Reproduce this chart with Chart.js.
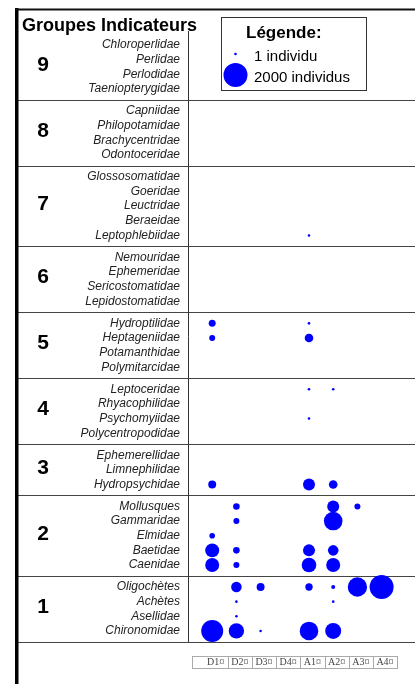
<!DOCTYPE html>
<html lang="fr">
<head>
<meta charset="utf-8">
<title>Groupes indicateurs</title>
<script src="https://cdn.jsdelivr.net/npm/chart.js@4"></script>
<style>
  html, body { margin: 0; padding: 0; background: #fff; }
  canvas { display: block; }
</style>
</head>
<body>
<canvas id="chart" width="415" height="684"></canvas>
<script>
// Stations along the x axis
const stations = ['D1', 'D2', 'D3', 'D4', 'A1', 'A2', 'A3', 'A4'];

// Indicator groups, top to bottom, and their families
const groupNumbers = [9, 8, 7, 6, 5, 4, 3, 2, 1];
const groupFamilies = [
  ['Chloroperlidae', 'Perlidae', 'Perlodidae', 'Taeniopterygidae'],
  ['Capniidae', 'Philopotamidae', 'Brachycentridae', 'Odontoceridae'],
  ['Glossosomatidae', 'Goeridae', 'Leuctridae', 'Beraeidae', 'Leptophlebiidae'],
  ['Nemouridae', 'Ephemeridae', 'Sericostomatidae', 'Lepidostomatidae'],
  ['Hydroptilidae', 'Heptageniidae', 'Potamanthidae', 'Polymitarcidae'],
  ['Leptoceridae', 'Rhyacophilidae', 'Psychomyiidae', 'Polycentropodidae'],
  ['Ephemerellidae', 'Limnephilidae', 'Hydropsychidae'],
  ['Mollusques', 'Gammaridae', 'Elmidae', 'Baetidae', 'Caenidae'],
  ['Oligochètes', 'Achètes', 'Asellidae', 'Chironomidae']
];

// Individuals per family (same order as above), columns D1 D2 D3 D4 A1 A2 A3 A4
const counts = [
  [0, 0, 0, 0, 0, 0, 0, 0],          // Chloroperlidae
  [0, 0, 0, 0, 0, 0, 0, 0],          // Perlidae
  [0, 0, 0, 0, 0, 0, 0, 0],          // Perlodidae
  [0, 0, 0, 0, 0, 0, 0, 0],          // Taeniopterygidae
  [0, 0, 0, 0, 0, 0, 0, 0],          // Capniidae
  [0, 0, 0, 0, 0, 0, 0, 0],          // Philopotamidae
  [0, 0, 0, 0, 0, 0, 0, 0],          // Brachycentridae
  [0, 0, 0, 0, 0, 0, 0, 0],          // Odontoceridae
  [0, 0, 0, 0, 0, 0, 0, 0],          // Glossosomatidae
  [0, 0, 0, 0, 0, 0, 0, 0],          // Goeridae
  [0, 0, 0, 0, 0, 0, 0, 0],          // Leuctridae
  [0, 0, 0, 0, 0, 0, 0, 0],          // Beraeidae
  [0, 0, 0, 0, 3, 0, 0, 0],          // Leptophlebiidae
  [0, 0, 0, 0, 0, 0, 0, 0],          // Nemouridae
  [0, 0, 0, 0, 0, 0, 0, 0],          // Ephemeridae
  [0, 0, 0, 0, 0, 0, 0, 0],          // Sericostomatidae
  [0, 0, 0, 0, 0, 0, 0, 0],          // Lepidostomatidae
  [170, 0, 0, 0, 5, 0, 0, 0],        // Hydroptilidae
  [125, 0, 0, 0, 260, 0, 0, 0],      // Heptageniidae
  [0, 0, 0, 0, 0, 0, 0, 0],          // Potamanthidae
  [0, 0, 0, 0, 0, 0, 0, 0],          // Polymitarcidae
  [0, 0, 0, 0, 2, 2, 0, 0],          // Leptoceridae
  [0, 0, 0, 0, 0, 0, 0, 0],          // Rhyacophilidae
  [0, 0, 0, 0, 2, 0, 0, 0],          // Psychomyiidae
  [0, 0, 0, 0, 0, 0, 0, 0],          // Polycentropodidae
  [0, 0, 0, 0, 0, 0, 0, 0],          // Ephemerellidae
  [0, 0, 0, 0, 0, 0, 0, 0],          // Limnephilidae
  [220, 0, 0, 0, 500, 260, 0, 0],    // Hydropsychidae
  [0, 150, 0, 0, 0, 500, 125, 0],    // Mollusques
  [0, 125, 0, 0, 0, 1200, 0, 0],     // Gammaridae
  [110, 0, 0, 0, 0, 0, 0, 0],        // Elmidae
  [680, 150, 0, 0, 500, 390, 0, 0],  // Baetidae
  [680, 125, 0, 0, 740, 680, 0, 0],  // Caenidae
  [0, 390, 220, 0, 190, 55, 1300, 2000], // Oligochètes
  [0, 2, 0, 0, 0, 2, 0, 0],          // Achètes
  [0, 2, 0, 0, 0, 0, 0, 0],          // Asellidae
  [1680, 820, 8, 0, 1200, 890, 0, 0] // Chironomidae
];

// Legend reference sizes
const legendCounts = [1, 2000];
const legendLabels = ['1 individu', '2000 individus'];

// bubble area proportional to the number of individuals (2000 -> radius 12)
function bubbleRadius(n) {
  return Math.max(1.3, 12 * Math.sqrt(n / 2000));
}

// row positions: one unit per family, half a unit extra between groups
const families = groupFamilies.flat();
const rowPos = [];
const groupRange = [];
let u = 0;
groupFamilies.forEach((fams, g) => {
  if (g > 0) u += 0.5;
  const first = u;
  fams.forEach(() => { rowPos.push(u); u += 1; });
  groupRange.push([first, u - 1]);
});

const points = [];
counts.forEach((row, i) => {
  row.forEach((n, j) => {
    if (n > 0) points.push({ x: j, y: rowPos[i], r: bubbleRadius(n) });
  });
});

const tablePlugin = {
  id: 'tableLayout',
  beforeDatasetsDraw(chart) {
    const { ctx, chartArea, scales: { y } } = chart;
    ctx.save();
    ctx.strokeStyle = '#444';
    ctx.lineWidth = 1;
    groupRange.forEach(([first, last]) => {
      const py = Math.round(y.getPixelForValue(last + 0.75)) + 0.5;
      ctx.beginPath();
      ctx.moveTo(18, py);
      ctx.lineTo(chart.width, py);
      ctx.stroke();
    });
    // column separator between names and bubbles
    ctx.strokeStyle = '#333';
    ctx.beginPath();
    ctx.moveTo(chartArea.left + 0.5, 31);
    ctx.lineTo(chartArea.left + 0.5, y.getPixelForValue(groupRange[groupRange.length - 1][1] + 0.75));
    ctx.stroke();
    ctx.restore();
  },
  afterDraw(chart) {
    const { ctx, scales: { x, y } } = chart;
    ctx.save();

    // outer frame
    ctx.fillStyle = '#000';
    ctx.fillRect(15, 8, 3.5, chart.height - 8);
    ctx.fillStyle = '#111';
    ctx.fillRect(15, 8.5, chart.width - 15, 2);

    // header
    ctx.fillStyle = '#000';
    ctx.font = 'bold 18px "Liberation Sans", Arial, sans-serif';
    ctx.textAlign = 'left';
    ctx.textBaseline = 'alphabetic';
    ctx.fillText('Groupes Indicateurs', 22, 30.5);

    // group numbers
    ctx.font = 'bold 21px "Liberation Sans", Arial, sans-serif';
    ctx.textAlign = 'center';
    ctx.textBaseline = 'middle';
    groupRange.forEach(([first, last], g) => {
      const py = (y.getPixelForValue(first) + y.getPixelForValue(last)) / 2 - 2;
      ctx.fillText(String(groupNumbers[g]), 43, py);
    });

    // legend box
    ctx.strokeStyle = '#333';
    ctx.lineWidth = 1;
    ctx.strokeRect(221.5, 17.5, 145, 73);
    ctx.fillStyle = '#000';
    ctx.textAlign = 'left';
    ctx.textBaseline = 'alphabetic';
    ctx.font = 'bold 17px "Liberation Sans", Arial, sans-serif';
    ctx.fillText('Légende:', 246, 38);
    ctx.font = '15px "Liberation Sans", Arial, sans-serif';
    const legendY = [54, 75];
    legendCounts.forEach((n, k) => {
      ctx.fillStyle = '#0000ff';
      ctx.beginPath();
      ctx.arc(235.5, legendY[k], bubbleRadius(n), 0, Math.PI * 2);
      ctx.fill();
      ctx.fillStyle = '#000';
      ctx.fillText(legendLabels[k], 254, legendY[k] + 6.5);
    });

    // little boxes around the station labels
    ctx.strokeStyle = '#aaa';
    let left = Math.round(x.getPixelForValue(0) - 20) + 0.5;
    stations.forEach((s, i) => {
      const right = Math.round(x.getPixelForValue(i) + 15.5) + 0.5;
      ctx.strokeRect(left, 656.5, right - left, 12);
      left = right;
    });
    ctx.restore();
  }
};

const ctx = document.getElementById('chart').getContext('2d');
const chart = new Chart(ctx, {
  type: 'bubble',
  data: {
    datasets: [{
      data: points,
      backgroundColor: '#0000ff',
      hoverBackgroundColor: '#0000ff',
      borderWidth: 0,
      hoverBorderWidth: 0
    }]
  },
  options: {
    responsive: false,
    animation: false,
    events: [],
    layout: { autoPadding: false, padding: { top: 10, right: 0, bottom: 0, left: 0 } },
    plugins: {
      legend: { display: false },
      tooltip: { enabled: false }
    },
    scales: {
      x: {
        type: 'linear',
        bounds: 'data',
        min: -1,
        max: 8.38,
        afterBuildTicks: s => { s.ticks = stations.map((_, i) => ({ value: i })); },
        afterFit: s => { s.height = 39; s.paddingLeft = 0; s.paddingRight = 0; },
        grid: { display: false, drawTicks: false },
        border: { display: false },
        ticks: {
          autoSkip: false,
          maxRotation: 0,
          align: 'end',
          labelOffset: 12,
          padding: 11,
          color: '#444',
          font: { family: '"Liberation Serif", "Times New Roman", serif', size: 10 },
          callback: (v, i) => stations[i] + '¤'
        }
      },
      y: {
        type: 'linear',
        bounds: 'data',
        reverse: true,
        min: -2.39,
        max: 40.96,
        afterBuildTicks: s => { s.ticks = rowPos.map(v => ({ value: v })); },
        afterFit: s => { s.width = 188; s.paddingTop = 0; s.paddingBottom = 0; },
        grid: { display: false, drawTicks: false },
        border: { display: false },
        ticks: {
          autoSkip: false,
          padding: 8,
          color: '#222',
          font: { family: '"Liberation Sans", Arial, sans-serif', size: 12, style: 'italic' },
          callback: (v, i) => families[i]
        }
      }
    }
  },
  plugins: [tablePlugin]
});
</script>
</body>
</html>
